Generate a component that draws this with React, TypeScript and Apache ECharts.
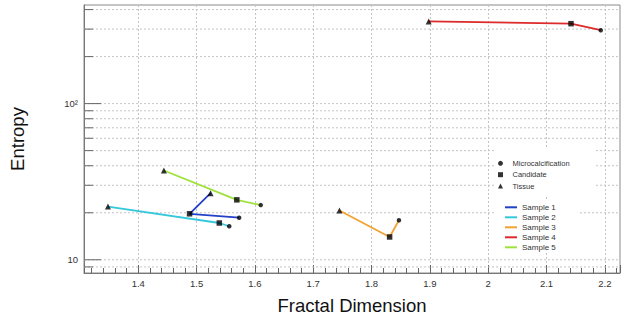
import React, { useEffect, useRef } from "react";
import * as echarts from "echarts";

// ---- data ----
const sampleNames = ["Sample 1", "Sample 2", "Sample 3", "Sample 4", "Sample 5"];
const sampleColors = ["#2340c8", "#35c8dc", "#f2a231", "#dd2a2a", "#9ee23c"];
// Tissue (triangle), Candidate (square), Microcalcification (circle)
const tissueX = [1.524, 1.348, 1.745, 1.898, 1.444];
const tissueY = [26.7, 21.9, 20.7, 336, 37.3];
const candidateX = [1.488, 1.539, 1.831, 2.142, 1.569];
const candidateY = [19.7, 17.2, 14.0, 325, 24.2];
const microX = [1.573, 1.556, 1.847, 2.193, 1.61];
const microY = [18.6, 16.4, 17.9, 295, 22.4];

const markerNames = ["Microcalcification", "Candidate", "Tissue"];

// axes
const X_MIN = 1.307;
const X_MAX = 2.226;
const Y_MIN = 8.23;
const Y_MAX = 428;
const yGridValues = [9, 10, 20, 30, 40, 50, 60, 70, 80, 90, 100, 200, 300, 400];
const yMajorValues = [10, 100];

const FONT = "'Liberation Sans', Arial, Helvetica, sans-serif";

export default function App() {
  const ref = useRef<HTMLDivElement>(null);

  useEffect(() => {
    if (!ref.current) return;
    const chart = echarts.init(ref.current, undefined, { renderer: "svg" });

    const lineSeries = sampleNames.map((name, i) => ({
      name,
      type: "line",
      data: [
        [tissueX[i], tissueY[i]],
        [candidateX[i], candidateY[i]],
        [microX[i], microY[i]],
      ],
      showSymbol: false,
      symbol: "none",
      color: sampleColors[i],
      itemStyle: { color: sampleColors[i] },
      lineStyle: { color: sampleColors[i], width: 1.8 },
      z: 3,
      silent: true,
    }));

    const markerSeries = [
      {
        name: "Microcalcification",
        type: "scatter",
        symbol: "circle",
        symbolSize: 4.5,
        data: microX.map((x, i) => [x, microY[i]]),
      },
      {
        name: "Candidate",
        type: "scatter",
        symbol: "rect",
        symbolSize: 5.5,
        data: candidateX.map((x, i) => [x, candidateY[i]]),
      },
      {
        name: "Tissue",
        type: "scatter",
        symbol: "triangle",
        symbolSize: 6,
        data: tissueX.map((x, i) => [x, tissueY[i]]),
      },
    ].map((s) => ({
      ...s,
      color: "#000",
      itemStyle: { color: "#000" },
      z: 4,
      silent: true,
    }));

    const gridSeries = {
      name: "ygrid",
      type: "custom",
      z: 1,
      silent: true,
      encode: { x: 0, y: 1 },
      data: yGridValues.map((v) => [X_MIN, v]),
      renderItem: (_params: any, api: any) => {
        const v = api.value(1);
        const p0 = api.coord([X_MIN, v]);
        const p1 = api.coord([X_MAX, v]);
        const major = yMajorValues.indexOf(v) >= 0;
        return {
          type: "group",
          children: [
            {
              type: "line",
              shape: { x1: p0[0], y1: p0[1], x2: p1[0], y2: p1[1] },
              style: { stroke: "#c4c4c4", lineWidth: 1, lineDash: [2, 2] },
            },
            {
              type: "line",
              shape: { x1: p0[0], y1: p0[1], x2: p0[0] + (major ? 17 : 9), y2: p0[1] },
              style: { stroke: "#666", lineWidth: 1 },
            },
          ],
        };
      },
    };

    const supDigits: Record<string, string> = { "0": "⁰", "1": "¹", "2": "²", "3": "³" };

    chart.setOption({
      animation: false,
      textStyle: { fontFamily: FONT },
      grid: {
        left: 83.3,
        right: 1,
        top: 5,
        bottom: 43.3,
        show: true,
        borderColor: "#8a8a8a",
        borderWidth: 1,
        backgroundColor: "#fff",
      },
      xAxis: {
        type: "value",
        min: X_MIN,
        max: X_MAX,
        splitNumber: 10,
        name: "Fractal Dimension",
        nameLocation: "middle",
        nameGap: 23,
        nameTextStyle: { fontSize: 18.5, color: "#111", fontFamily: FONT },
        axisLine: { show: true, lineStyle: { color: "#777", width: 1 } },
        axisTick: { show: true, inside: true, length: 8, lineStyle: { color: "#666" } },
        minorTick: { show: true, splitNumber: 5, length: 5, lineStyle: { color: "#666" } },
        splitLine: { show: true, lineStyle: { color: "#c4c4c4", type: [2, 2], width: 1 } },
        axisLabel: {
          fontSize: 9.5,
          color: "#333",
          margin: 5,
          showMinLabel: false,
          showMaxLabel: false,
          fontFamily: FONT,
        },
      },
      yAxis: {
        type: "log",
        logBase: 10,
        min: Y_MIN,
        max: Y_MAX,
        name: "Entropy",
        nameLocation: "middle",
        nameGap: 57,
        nameRotate: 90,
        nameTextStyle: { fontSize: 18.5, color: "#111", fontFamily: FONT },
        axisLine: { show: true, lineStyle: { color: "#777", width: 1 } },
        axisTick: { show: false },
        splitLine: { show: false },
        axisLabel: {
          fontSize: 9.5,
          color: "#333",
          margin: 6,
          fontFamily: FONT,
          formatter: (v: number) => {
            const e = Math.log10(v);
            const r = Math.round(e);
            if (Math.abs(e - r) > 1e-6) return "";
            if (r === 1) return "10";
            return "10" + String(r).split("").map((d) => supDigits[d] || d).join("");
          },
        },
      },
      legend: [
        {
          data: [
            { name: markerNames[0], icon: "circle" },
            { name: markerNames[1], icon: "path://M0,0L10,0L10,10L0,10Z" },
            { name: markerNames[2], icon: "path://M5,0L10,10L0,10Z" },
          ],
          orient: "vertical",
          left: 495,
          top: 148,
          itemWidth: 14,
          itemHeight: 5,
          itemGap: 0,
          symbolKeepAspect: true,
          selectedMode: false,
          backgroundColor: "#fff",
          borderWidth: 0,
          padding: [9.6, 26, 4.2, 3],
          z: 10,
          textStyle: { fontSize: 7.5, lineHeight: 11.4, color: "#333", fontFamily: FONT },
        },
        {
          data: sampleNames.map((n, i) => ({ name: n, itemStyle: { color: sampleColors[i] } })),
          orient: "vertical",
          icon: "rect",
          left: 496,
          top: 200,
          itemWidth: 12,
          itemHeight: 2,
          itemGap: 0,
          selectedMode: false,
          backgroundColor: "#fff",
          borderWidth: 0,
          padding: [2.3, 22, 0.7, 9],
          z: 10,
          textStyle: { fontSize: 8, lineHeight: 10, color: "#333", fontFamily: FONT },
        },
      ],
      series: [gridSeries, ...lineSeries, ...markerSeries],
    });

    return () => chart.dispose();
  }, []);

  return (
    <div
      ref={ref}
      style={{ position: "fixed", left: 0, top: 0, width: 621, height: 320, background: "#fff" }}
    />
  );
}
